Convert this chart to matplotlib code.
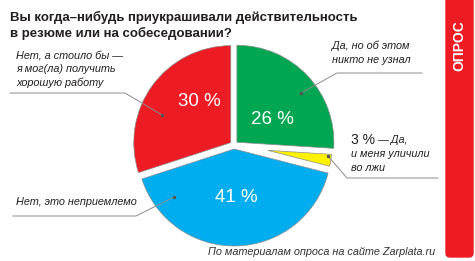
import matplotlib
matplotlib.use("Agg")
import matplotlib.pyplot as plt
from matplotlib.patches import FancyBboxPatch

plt.rcParams["font.family"] = ["Liberation Sans", "DejaVu Sans"]

# --- data -------------------------------------------------------------------
answers = ["Да, но об этом\nникто не узнал",
           "— Да,\nи меня уличили\nво лжи",
           "Нет, это неприемлемо",
           "Нет, а стоило бы —\nя мог(ла) получить\nхорошую работу"]
shares = [26, 3, 41, 30]
colors = ["#00a651", "#fff200", "#00aeef", "#ed1c24"]
explode = [4, 34, 4, 4]          # pixels the slice is pulled out

title = "Вы когда–нибудь приукрашивали действительность\nв резюме или на собеседовании?"
source = "По материалам опроса на сайте Zarplata.ru"
tag = "ОПРОС"

W, H = 475, 261
TXT = "#231f20"
LINE = "#8c8c8c"

fig = plt.figure(figsize=(W / 100, H / 100), dpi=100)
ax = fig.add_axes([0, 0, 1, 1])


def Y(y):
    # pixel row (from top) -> data y (from bottom)
    return H - y


wedges, _ = ax.pie(shares, colors=colors, explode=explode, startangle=90,
                   counterclock=False, radius=97, center=(234, Y(145)),
                   wedgeprops=dict(edgecolor=LINE, linewidth=0.5))
# the tiny yellow slice is pulled out and drawn shorter
wedges[1].set_radius(64)

ax.set_xlim(0, W)
ax.set_ylim(0, H)
ax.set_aspect("equal")
ax.axis("off")

# percent figures inside the slices
pct_pos = [(272, 120), None, (236, 197), (199, 102)]
for v, p in zip(shares, pct_pos):
    if p is None:
        continue
    ax.text(p[0], Y(p[1]), f"{v} %", color="white", fontsize=13.5,
            ha="center", va="center")

# title
ax.text(10, Y(11), title, fontsize=9.5, fontweight="bold", color=TXT,
        ha="left", va="top", linespacing=1.25)

ital = dict(fontsize=7.8, style="italic", color=TXT, linespacing=1.47)


def leader(xs, ys):
    ax.plot(xs, [Y(v) for v in ys], color=LINE, lw=0.7)
    ax.plot(xs[-1], Y(ys[-1]), "o", ms=1.5, color="#555555")


ax.text(16, Y(50), answers[3], ha="left", va="top", **ital)
leader([10, 125, 162], [93, 93, 115])

ax.text(332, Y(41), answers[0], ha="left", va="top", **ital)
leader([422, 337, 301], [73, 73, 93])

first, rest = answers[1].split("\n", 1)
ax.text(351, Y(140), f"{shares[1]} %", fontsize=10, color=TXT,
        ha="left", va="center")
ax.text(377, Y(140), first, ha="left", va="center", **ital)
ax.text(351, Y(149), rest, ha="left", va="top", **ital)
leader([438, 347, 328], [178, 178, 156])

ax.text(16, Y(202), answers[2], ha="left", va="center", **ital)
leader([13, 136, 174], [216, 216, 197])

# source line
ax.text(435, Y(252), source, fontsize=7.8, style="italic", color="#333333",
        ha="right", va="center")

# red side tab
ax.add_patch(FancyBboxPatch((446, Y(257)), 27, 270, color="#ed1c24",
                            boxstyle="round,pad=0,rounding_size=4"))
ax.text(459, Y(46), tag, color="white", fontsize=10, fontweight="bold",
        rotation=90, ha="center", va="center")

fig.savefig("out.png", dpi=100)
